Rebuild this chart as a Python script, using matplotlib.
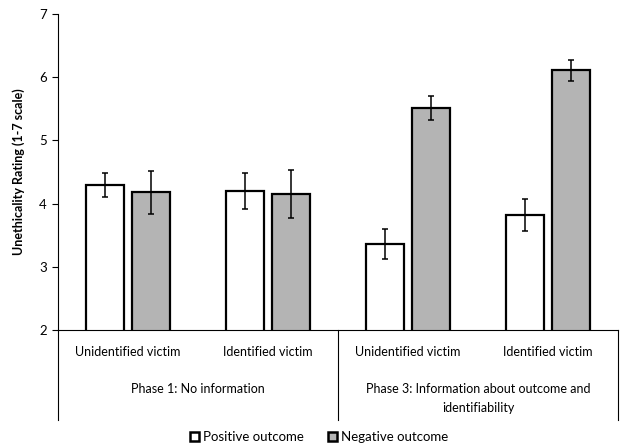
import matplotlib
matplotlib.use('Agg')
import matplotlib.pyplot as plt
from matplotlib.patches import Patch
import numpy as np

plt.rcParams['font.family'] = ['Lato', 'DejaVu Sans']

categorias = ['Unidentified victim', 'Identified victim', 'Unidentified victim', 'Identified victim']
fases = [['Phase 1: No information'], ['Phase 3: Information about outcome and', 'identifiability']]
positivo = [4.30, 4.20, 3.36, 3.82]
positivo_err = [0.19, 0.28, 0.24, 0.26]
negativo = [4.18, 4.15, 5.52, 6.11]
negativo_err = [0.34, 0.38, 0.19, 0.17]

fig = plt.figure(figsize=(6.2, 4.45), dpi=100)
ax = fig.add_axes([0.0935, 0.2584, 0.9035, 0.7101])

x = np.arange(len(categorias))
largura = 0.27
desloc = 0.165

ax.bar(x - desloc, positivo, largura, color='white', edgecolor='black', linewidth=1.6, zorder=2)
ax.bar(x + desloc, negativo, largura, color='#b4b4b4', edgecolor='black', linewidth=1.6, zorder=2)
ax.errorbar(x - desloc, positivo, yerr=positivo_err, fmt='none', ecolor='black', elinewidth=1.1, capsize=2, capthick=1.1, zorder=3)
ax.errorbar(x + desloc, negativo, yerr=negativo_err, fmt='none', ecolor='black', elinewidth=1.1, capsize=2, capthick=1.1, zorder=3)

ax.set_xlim(-0.5, 3.5)
ax.set_ylim(2, 7)
ax.set_yticks([2, 3, 4, 5, 6, 7])
ax.tick_params(axis='y', labelsize=9.5, length=4, width=0.8, pad=4)
ax.set_xticks([])
ax.set_ylabel('Unethicality Rating (1-7 scale)', fontsize=9, fontweight='bold', labelpad=10)

ax.spines['top'].set_visible(False)
ax.spines['right'].set_visible(False)
ax.spines['left'].set_linewidth(0.8)
ax.spines['bottom'].set_linewidth(0.8)

# rótulos de categoria e fase abaixo do eixo
trans = ax.get_xaxis_transform()
for i, cat in enumerate(categorias):
    ax.text(i, -0.07, cat, transform=trans, ha='center', va='center', fontsize=9)
for j, linhas in enumerate(fases):
    for k, linha in enumerate(linhas):
        ax.text(2 * j + 0.5, -0.188 - 0.06 * k, linha, transform=trans, ha='center', va='center', fontsize=9)
for xd in [-0.5, 1.5, 3.5]:
    ax.plot([xd, xd], [0, -0.285], transform=trans, color='black', linewidth=0.8, clip_on=False)

handles = [Patch(facecolor='white', edgecolor='black', linewidth=1.8, label='Positive outcome'),
           Patch(facecolor='#b4b4b4', edgecolor='black', linewidth=1.8, label='Negative outcome')]
fig.legend(handles=handles, loc='center', bbox_to_anchor=(0.515, 0.018), ncol=2, frameon=False,
           fontsize=9.5, handlelength=0.7, handleheight=0.7, handletextpad=0.3, columnspacing=1.8)

fig.savefig('out.png', dpi=100)
